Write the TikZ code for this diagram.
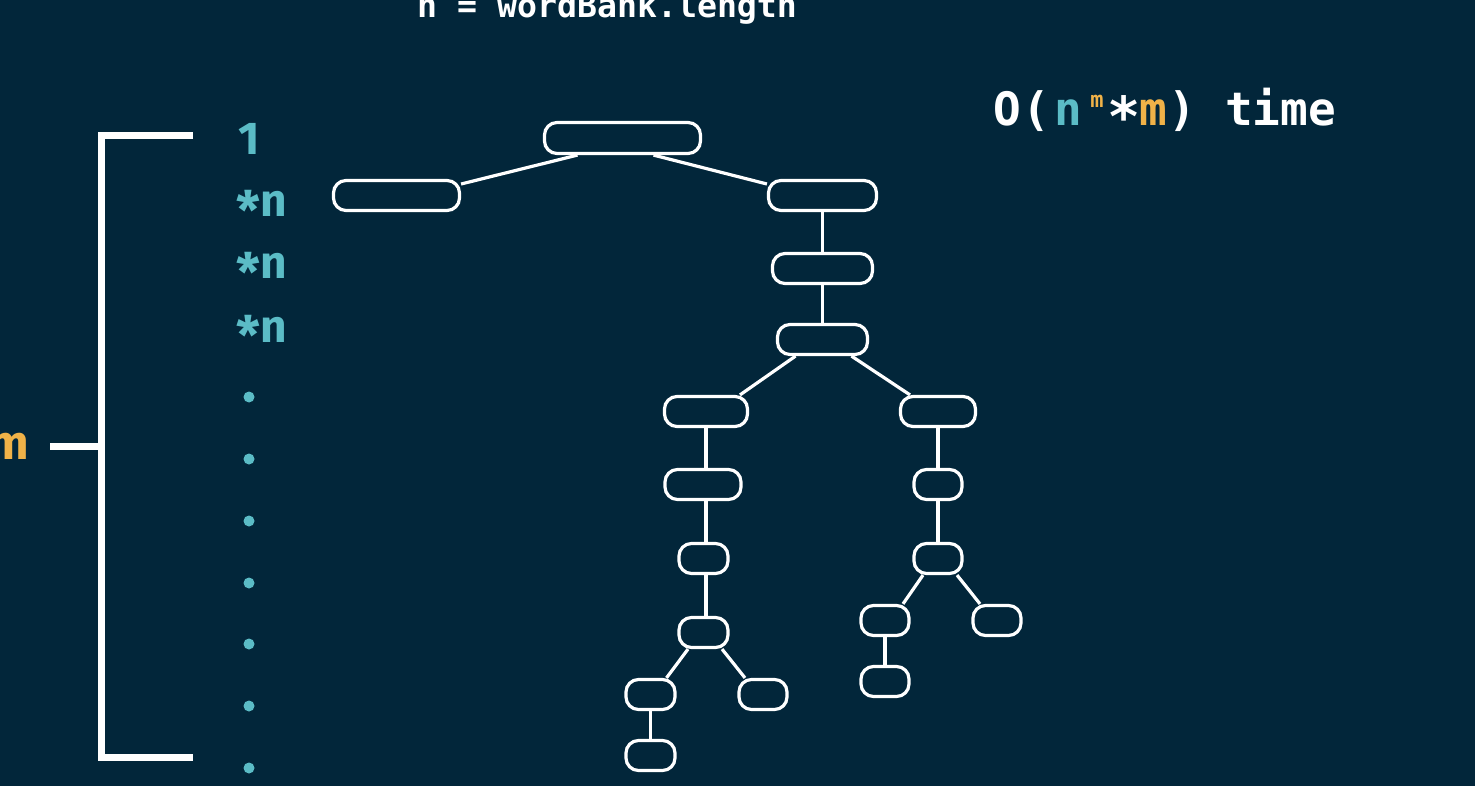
\documentclass[tikz,border=0pt]{standalone}
\usepackage{fontspec}
\setmainfont{Fira Sans}
\newfontfamily\monob{DejaVu Sans Mono}[BoldFont={* Bold}]
\newfontfamily\firab{Fira Sans}[BoldFont={* Bold}]
\usetikzlibrary{calc}
\definecolor{bg}{HTML}{02263A}
\definecolor{teal}{HTML}{5BBCC6}
\definecolor{gold}{HTML}{F0B248}
\begin{document}
\begin{tikzpicture}[x=1pt,y=-1pt,
  box/.style={draw=white,line width=3.2pt,rounded corners=12.5pt,inner sep=0pt,minimum height=30pt},
  edge/.style={draw=white,line width=3.2pt},
  brk/.style={draw=white,line width=7pt},
  col/.style={text=teal,font=\firab\bfseries\fontsize{46}{52}\selectfont,anchor=base west,inner sep=0pt},
  bigmono/.style={font=\monob\bfseries\fontsize{46}{52}\selectfont,anchor=base,inner sep=0pt},
  dotc/.style={fill=teal,draw=none}]
\fill[bg] (0,0) rectangle (1475,786);
\useasboundingbox (0,0) rectangle (1475,786);

% top text
\node[font=\monob\bfseries\fontsize{33.2}{40}\selectfont,text=white,anchor=base west,inner sep=0pt] (title) at (417,18) {n = wordBank.length};

% complexity
\node[bigmono,text=white] (cO) at (1007,126) {O};
\node[bigmono,text=white] (cp1) at (1036,126) {(};
\node[bigmono,text=teal] (cn) at (1068,126) {n};
\node[font=\monob\bfseries\fontsize{22}{24}\selectfont,anchor=base,inner sep=0pt,text=gold] (cm1) at (1097,108) {m};
\node[bigmono,text=white] (cst) at (1124,126) {\raisebox{-0.22em}{\scalebox{1.2}{*}}};
\node[bigmono,text=gold] (cm2) at (1153,126) {m};
\node[bigmono,text=white] (cp2) at (1182,126) {)};
\node[font=\monob\bfseries\fontsize{46}{52}\selectfont,anchor=base west,inner sep=0pt,text=white] (ctime) at (1225,126) {time};

% bracket
\coordinate (bt) at (193,136);
\coordinate (btl) at (101,136);
\coordinate (bbl) at (101,757);
\coordinate (bb) at (193,757);
\coordinate (bm) at (101,446);
\coordinate (bmt) at (50,446);
\draw[brk,line join=miter] (bt) -- (btl) -- (bbl) -- (bb);
\draw[brk] (bmt) -- (bm);
\node[font=\firab\bfseries\fontsize{48}{52}\selectfont,text=gold,anchor=base east,inner sep=0pt] (mlab) at (29,459) {m};

% column
\node[col] (r1) at (238,155) {1};
\node[col] (r2) at (236,217) {\raisebox{-0.28em}{\scalebox{1.15}{*}}\kern1pt n};
\node[col] (r3) at (236,279) {\raisebox{-0.28em}{\scalebox{1.15}{*}}\kern1pt n};
\node[col] (r4) at (236,342) {\raisebox{-0.28em}{\scalebox{1.15}{*}}\kern1pt n};
\foreach \yy [count=\i] in {397,459,521,583,644,706,768}
  \fill[dotc] (249,\yy) circle (5.5pt);

% tree nodes
\node[box,minimum width=156pt,minimum height=31pt] (root) at (622.5,138) {};
\node[box,minimum width=126pt] (a1) at (396.5,195.5) {};
\node[box,minimum width=108pt] (b1) at (822.5,195.5) {};
\node[box,minimum width=100pt] (b2) at (822.5,268.5) {};
\node[box,minimum width=90pt] (b3) at (822.5,339.5) {};
\node[box,minimum width=83pt] (c1) at (706,411.5) {};
\node[box,minimum width=75pt] (d1) at (938,411.5) {};
\node[box,minimum width=76pt] (c2) at (703,484.5) {};
\node[box,minimum width=48pt] (d2) at (938,484.5) {};
\node[box,minimum width=49pt] (c3) at (703.5,558.5) {};
\node[box,minimum width=48pt] (d3) at (938,558.5) {};
\node[box,minimum width=49pt] (c4) at (703.5,632.5) {};
\node[box,minimum width=48pt] (e1) at (885,620.5) {};
\node[box,minimum width=48pt] (e2) at (997,620.5) {};
\node[box,minimum width=49pt] (f1) at (650.5,694.5) {};
\node[box,minimum width=48pt] (f2) at (763,694.5) {};
\node[box,minimum width=48pt] (e3) at (885,681.5) {};
\node[box,minimum width=49pt] (f3) at (650.5,755.5) {};

% edges
\draw[edge] ($(root.south)+(-45,0)$) -- ($(a1.east)+(0,-11.5)$);
\draw[edge] ($(root.south)+(31,0)$) -- ($(b1.west)+(0,-11.5)$);
\draw[edge] (b1.south) -- (b2.north);
\draw[edge] (b2.south) -- (b3.north);
\draw[edge] ($(b3.south)+(-27,0)$) -- ($(c1.north)+(34,0)$);
\draw[edge] ($(b3.south)+(29,0)$) -- ($(d1.north)+(-28,0)$);
\draw[edge] (c1.south) -- (c1.south |- c2.north);
\draw[edge] (c2.south -| c1.south) -- (c3.north -| c1.south);
\draw[edge] (c3.south -| c1.south) -- (c4.north -| c1.south);
\draw[edge] (d1.south) -- (d2.north);
\draw[edge] (d2.south) -- (d3.north);
\draw[edge] ($(d3.south)+(-15,0)$) -- ($(e1.north)+(18,0)$);
\draw[edge] ($(d3.south)+(19,0)$) -- ($(e2.north)+(-17,0)$);
\draw[edge] ($(c4.south)+(-15.5,0)$) -- ($(f1.north)+(16,0)$);
\draw[edge] ($(c4.south)+(18.5,0)$) -- ($(f2.north)+(-18,0)$);
\draw[edge] (e1.south) -- (e3.north);
\draw[edge] (f1.south) -- (f3.north);
\end{tikzpicture}
\end{document}
